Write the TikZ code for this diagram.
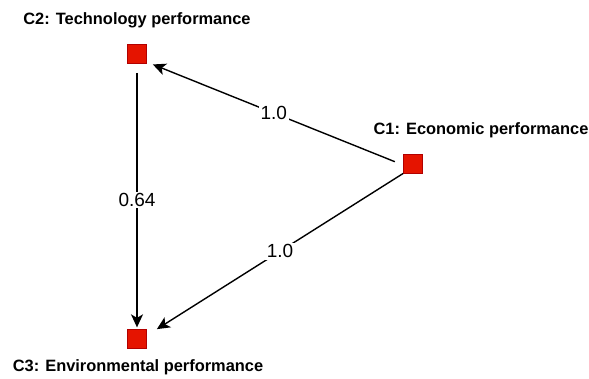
\documentclass[tikz,border=0pt]{standalone}
\usepackage{fontspec}
\setmainfont{Liberation Sans}
\usetikzlibrary{arrows.meta,positioning,calc}
\definecolor{cR}{HTML}{E51400}
\definecolor{cS}{HTML}{B20000}
\tikzset{
  crit/.style={rectangle,draw=cS,fill=cR,line width=0.8pt,
               minimum size=19.5pt,inner sep=0pt},
  critlbl/.style={font=\fontsize{16.4}{19}\selectfont\bfseries,
               inner sep=0pt,anchor=base},
  wgt/.style={fill=white,inner sep=1.5pt,font=\fontsize{19}{22}\selectfont},
  link/.style={-{Stealth[length=13pt,width=12pt,inset=3.5pt]},line width=1.4pt},
}
\begin{document}
\begin{tikzpicture}[x=1pt,y=-1pt]
  \useasboundingbox (0,0) rectangle (589,378);
  % criteria
  \node[crit] (c1) at (413,164){};
  \node[crit] (c2) at (137,54){};
  \node[crit] (c3) at (137,339){};
  \node[critlbl] (c1lbl) at (481,134){C1: Economic performance};
  \node[critlbl] (c2lbl) at (137,24.5){C2: Technology performance};
  \node[critlbl] (c3lbl) at (138,371.5){C3: Environmental performance};
  % connector ends
  \coordinate (c1a) at ([shift={(-8,-2.3)}]c1.west);
  \coordinate (c1b) at ([shift={(0.3,-0.7)}]c1.south west);
  \coordinate (c2a) at ([shift={(5.7,0.3)}]c2.south east);
  \coordinate (c2b) at ([shift={(0,8.7)}]c2.south);
  \coordinate (c3a) at ([shift={(9.7,0.3)}]c3.north east);
  \coordinate (c3b) at ([shift={(0,-1.5)}]c3.north);
  % weights
  \draw[link] (c1a) -- node[wgt]{1.0} (c2a);
  \draw[link] (c2b) -- node[wgt]{0.64} (c3b);
  \draw[link] (c1b) -- node[wgt]{1.0} (c3a);
\end{tikzpicture}
\end{document}
